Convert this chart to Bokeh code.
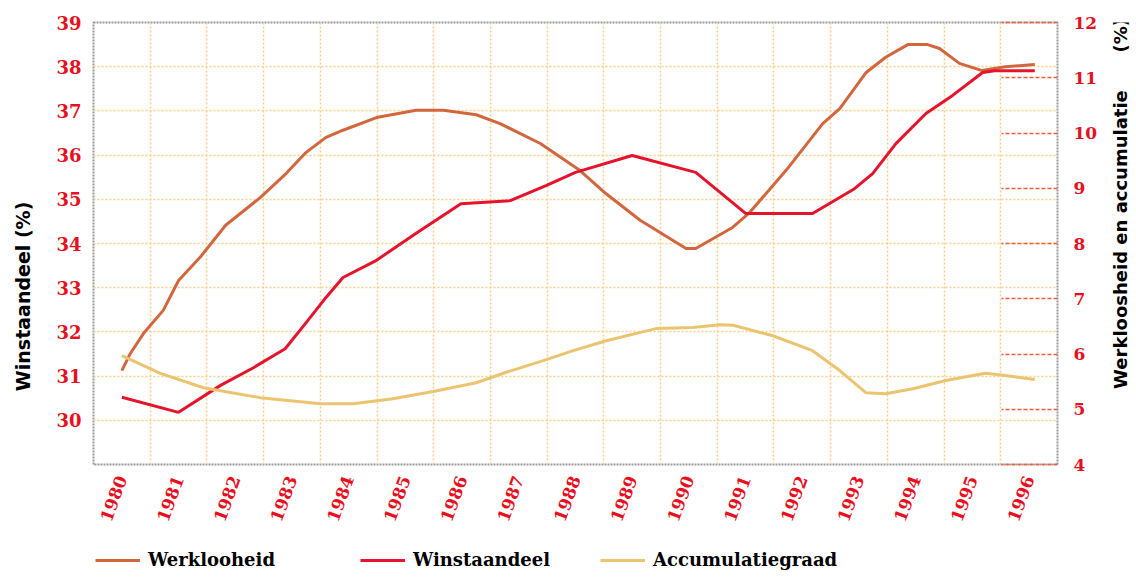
import math
from bokeh.plotting import figure
from bokeh.layouts import row, column
from bokeh.models import (LinearAxis, Range1d, FixedTicker, Legend, LegendItem, Label)
from bokeh.embed import file_html
from bokeh.resources import INLINE

# ---- data ----
years = list(range(1980, 1997))
year_labels = [str(y) for y in years]

werkloosheid_x = [1980.0, 1980.15, 1980.38, 1980.73, 1981.0, 1981.38, 1981.83, 1982.44, 1982.9,
                  1983.25, 1983.6, 1983.9, 1984.49, 1985.19, 1985.67, 1986.25, 1986.67, 1987.38,
                  1988.08, 1988.54, 1989.14, 1989.95, 1990.12, 1990.77, 1991.07, 1991.71, 1992.36,
                  1992.66, 1993.12, 1993.47, 1993.86, 1994.21, 1994.42, 1994.77, 1995.17, 1995.58,
                  1996.1]
werkloosheid_y = [5.70, 6.01, 6.37, 6.79, 7.33, 7.75, 8.33, 8.83, 9.27,
                  9.65, 9.92, 10.05, 10.28, 10.41, 10.41, 10.33, 10.17, 9.81,
                  9.32, 8.90, 8.42, 7.91, 7.91, 8.29, 8.56, 9.32, 10.17,
                  10.44, 11.09, 11.37, 11.60, 11.60, 11.53, 11.26, 11.13, 11.20,
                  11.24]

winstaandeel_x = [1980.0, 1981.0, 1981.74, 1982.32, 1982.88, 1983.25, 1983.6, 1983.9, 1984.49,
                  1985.19, 1985.98, 1986.85, 1987.48, 1988.0, 1989.0, 1990.12, 1991.0, 1992.18,
                  1992.92, 1993.24, 1993.65, 1994.18, 1994.65, 1995.18, 1995.39, 1996.1]
winstaandeel_y = [30.52, 30.18, 30.79, 31.19, 31.62, 32.21, 32.78, 33.23, 33.62,
                  34.23, 34.90, 34.97, 35.31, 35.61, 35.99, 35.61, 34.68, 34.68,
                  35.24, 35.58, 36.26, 36.94, 37.35, 37.87, 37.91, 37.91]

accumulatie_x = [1980.0, 1980.68, 1981.44, 1982.44, 1983.5, 1984.08, 1984.78, 1985.49, 1986.25,
                 1986.78, 1987.43, 1987.96, 1988.54, 1989.42, 1990.07, 1990.55, 1990.78, 1991.48,
                 1992.18, 1992.66, 1993.12, 1993.47, 1993.95, 1994.53, 1995.23, 1995.58, 1996.1]
accumulatie_y = [5.97, 5.65, 5.39, 5.21, 5.10, 5.10, 5.19, 5.32, 5.48,
                 5.67, 5.88, 6.06, 6.24, 6.46, 6.48, 6.53, 6.52, 6.33,
                 6.06, 5.70, 5.30, 5.28, 5.37, 5.52, 5.65, 5.61, 5.54]

left_ticks = [30, 31, 32, 33, 34, 35, 36, 37, 38, 39]
right_ticks = [4, 5, 6, 7, 8, 9, 10, 11, 12]

series_names = ["Werklooheid", "Winstaandeel", "Accumulatiegraad"]
left_title = "Winstaandeel (%)"
right_title = "Werkloosheid en accumulatie"

# ---- styles ----
C_WERK = "#D2663D"
C_WINST = "#E5132C"
C_ACC = "#EBC46F"
C_TICK = "#E8101E"
GRID = "#F8CF88"
NB = "\u00a0"

p = figure(width=1100, height=530, output_backend="svg", toolbar_location=None,
           x_range=Range1d(1979.5, 1996.5), y_range=Range1d(29, 39),
           min_border_left=93, min_border_right=42, min_border_top=22, min_border_bottom=66)
p.extra_y_ranges = {"right": Range1d(4, 12)}

p.outline_line_color = "#9a9a9a"
p.outline_line_width = 2
p.outline_line_dash = "2 1"

# grids
p.xgrid.ticker = FixedTicker(ticks=[y + 0.5 for y in years[:-1]])
p.ygrid.ticker = FixedTicker(ticks=left_ticks)
for g in (p.xgrid, p.ygrid):
    g.grid_line_color = GRID
    g.grid_line_width = 1.5
    g.grid_line_dash = "2 2"

# x axis
xa = p.xaxis[0]
xa.ticker = FixedTicker(ticks=years)
xa.major_label_overrides = {y: l for y, l in zip(years, year_labels)}
xa.major_label_orientation = 1.22
xa.major_tick_out = 0
xa.major_tick_in = 0
xa.minor_tick_out = 0
xa.minor_tick_in = 0
xa.axis_line_color = None
xa.major_label_standoff = 12
xa.major_label_text_color = C_TICK
xa.major_label_text_font = "DejaVu Serif"
xa.major_label_text_font_style = "bold"
xa.major_label_text_font_size = "17px"

# left axis
ya = p.yaxis[0]
ya.ticker = FixedTicker(ticks=left_ticks)
ya.major_tick_out = 0
ya.major_tick_in = 0
ya.minor_tick_out = 0
ya.minor_tick_in = 0
ya.axis_line_color = None
ya.major_label_standoff = 12
ya.major_label_text_color = C_TICK
ya.major_label_text_font = "DejaVu Serif"
ya.major_label_text_font_style = "bold"
ya.major_label_text_font_size = "18px"
ya.axis_label = left_title + NB * 16
ya.axis_label_text_font = "DejaVu Sans"
ya.axis_label_text_font_style = "bold"
ya.axis_label_text_font_size = "19px"
ya.axis_label_text_color = "black"
ya.axis_label_standoff = 19

# right axis (ticks drawn inward as dashed red lines)
ra = LinearAxis(y_range_name="right", ticker=FixedTicker(ticks=right_ticks))
ra.major_tick_out = 0
ra.major_tick_in = 56
ra.minor_tick_out = 0
ra.minor_tick_in = 0
ra.major_tick_line_color = "#E8603F"
ra.major_tick_line_dash = "4 2"
ra.major_tick_line_width = 1.5
ra.axis_line_color = None
ra.major_label_standoff = 16
ra.major_label_text_color = C_TICK
ra.major_label_text_font = "DejaVu Serif"
ra.major_label_text_font_style = "bold"
ra.major_label_text_font_size = "17px"
p.add_layout(ra, "right")

# lines
r_werk = p.line(werkloosheid_x, werkloosheid_y, y_range_name="right",
                line_color=C_WERK, line_width=3)
r_winst = p.line(winstaandeel_x, winstaandeel_y, line_color=C_WINST, line_width=3)
r_acc = p.line(accumulatie_x, accumulatie_y, y_range_name="right",
               line_color=C_ACC, line_width=3)

# right-hand axis title (reads bottom to top), in a narrow strip whose frame
# is aligned with the main plot frame
p2 = figure(width=32, height=530, output_backend="svg", toolbar_location=None,
            x_range=Range1d(0, 1), y_range=Range1d(0, 1),
            x_axis_type=None, y_axis_type=None, min_border=0)
p2.outline_line_color = None
p2.grid.visible = False
p2.add_layout(Label(x=20, y=261, x_units="screen", y_units="screen",
                    text=right_title + NB * 6 + "(%)", angle=math.pi / 2,
                    text_align="center", text_baseline="middle",
                    text_font="DejaVu Sans", text_font_style="bold",
                    text_font_size="18px", text_color="black"))

# legend strip (series drawn off-range, used only as legend glyph sources)
p3 = figure(width=1132, height=43, output_backend="svg", toolbar_location=None,
            x_range=Range1d(0, 1), y_range=Range1d(0, 1),
            x_axis_type=None, y_axis_type=None, min_border=0)
p3.outline_line_color = None
p3.grid.visible = False
series = [(werkloosheid_x, werkloosheid_y), (winstaandeel_x, winstaandeel_y),
          (accumulatie_x, accumulatie_y)]
for name, (sx, sy), color, xoff in zip(series_names, series, [C_WERK, C_WINST, C_ACC],
                                        [95, 360, 600]):
    proxy = p3.line(sx, sy, line_color=color, line_width=3)
    leg = Legend(items=[LegendItem(label=name, renderers=[proxy])],
                 location=(xoff, 3), orientation="horizontal",
                 padding=0, margin=0, spacing=0,
                 background_fill_alpha=0, border_line_alpha=0,
                 glyph_width=45, glyph_height=20, label_height=20, label_standoff=8,
                 label_text_font="DejaVu Serif", label_text_font_style="bold",
                 label_text_font_size="18px", label_text_color="black")
    p3.add_layout(leg)

layout = column(row(p, p2, spacing=0), p3, spacing=0)
open("out.html", "w").write(file_html(layout, INLINE))
